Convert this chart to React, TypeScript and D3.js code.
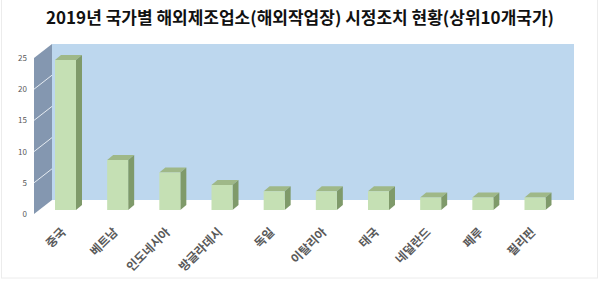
import React from "react";
import * as d3 from "d3";

const countries = ["중국", "베트남", "인도네시아", "방글라데시", "독일", "이탈리아", "태국", "네덜란드", "페루", "필리핀"];
const counts = [24, 8, 6, 4, 3, 3, 3, 2, 2, 2];
const yTicks = [0, 5, 10, 15, 20, 25];
const title = "2019년 국가별 해외제조업소(해외작업장) 시정조치 현황(상위10개국가)";

const W = 600;
const H = 284;
const FONT = "'Noto Sans CJK KR', 'Noto Sans', sans-serif";

export default function App() {
  const wallLeft = 34;
  const depthX = 18;
  const depthY = -14;
  const wallRight = 574;
  const axisBottom = 214;
  const axisTop = 58;

  const yAxis = d3.scaleLinear().domain([0, 25]).range([axisBottom, axisTop]);
  const yBar = d3.scaleLinear().domain([0, 25]).range([210, 210 - 25 * 6.25]);
  const x = d3.scalePoint<string>().domain(countries).range([65.5, 535]);

  const barW = 21;
  const bdx = 6;
  const bdy = -5;

  const wallPath = `M${wallLeft},${axisTop} L${wallLeft + depthX},${axisTop + depthY} L${wallLeft + depthX},${axisBottom + depthY} L${wallLeft},${axisBottom} Z`;

  return (
    <svg width={W} height={H} style={{ position: "absolute", left: 0, top: 0, background: "#fff" }}>
      <rect x={1.5} y={-2} width={W - 4} height={H - 4} fill="none" stroke="#ececec" strokeWidth={1} />
      <text x={300} y={24} textAnchor="middle" fontFamily={FONT} fontWeight="bold" fontSize={17} fill="#111">
        {title}
      </text>
      <rect
        x={wallLeft + depthX}
        y={axisTop + depthY}
        width={wallRight - wallLeft - depthX}
        height={axisBottom - axisTop}
        fill="#bdd7ee"
      />
      <path d={wallPath} fill="#8497b0" />
      {yTicks.slice(1, -1).map((t) => (
        <line
          key={t}
          x1={wallLeft}
          y1={yAxis(t)}
          x2={wallLeft + depthX}
          y2={yAxis(t) + depthY}
          stroke="#e6ecf2"
          strokeWidth={1}
        />
      ))}
      {yTicks.map((t) => (
        <text key={t} x={27} y={yAxis(t) + 3} textAnchor="end" fontFamily={FONT} fontSize={8} fill="#595959">
          {t}
        </text>
      ))}
      {countries.map((c, i) => {
        const cx = x(c)!;
        const x0 = cx - barW / 2;
        const x1 = cx + barW / 2;
        const yt = yBar(counts[i]);
        const yb = yBar(0);
        return (
          <g key={c}>
            <path d={`M${x0},${yt} L${x0 + bdx},${yt + bdy} L${x1 + bdx},${yt + bdy} L${x1},${yt} Z`} fill="#9fb888" />
            <path d={`M${x1},${yt} L${x1 + bdx},${yt + bdy} L${x1 + bdx},${yb + bdy} L${x1},${yb} Z`} fill="#7f9a6a" />
            <rect x={x0} y={yt} width={barW} height={yb - yt} fill="#c5e0b4" />
          </g>
        );
      })}
      {countries.map((c) => {
        const cx = x(c)!;
        return (
          <text
            key={c}
            transform={`translate(${cx + 1},${233}) rotate(-45)`}
            textAnchor="end"
            fontFamily={FONT}
            fontWeight={700}
            fontSize={12}
            fill="#595959"
          >
            {c}
          </text>
        );
      })}
    </svg>
  );
}
